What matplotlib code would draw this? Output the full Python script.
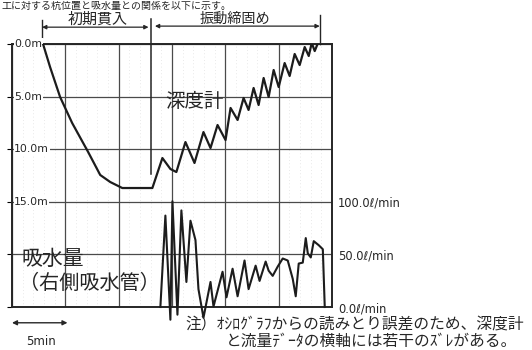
import matplotlib
matplotlib.use("Agg")
import matplotlib.pyplot as plt

plt.rcParams['font.family'] = ['Noto Sans CJK JP', 'DejaVu Sans']

# depth gauge trace: elapsed time [min] and depth [m]
depth_t = [2.91, 3.57, 4.51, 5.64, 7.14, 8.27, 9.21, 10.34, 13.16,
           14.10, 14.85, 15.41, 16.26, 17.11, 17.95, 18.61, 19.27, 20.02,
           20.49, 21.15, 21.71, 22.18, 22.65, 23.12, 23.59, 24.06, 24.53,
           25.00, 25.56, 26.03, 26.50, 26.97, 27.44, 27.82, 28.10, 28.38,
           28.76, 28.95]
depth_m = [0.00, 2.19, 5.04, 7.51, 10.27, 12.45, 13.12, 13.69, 13.69,
           10.84, 11.88, 12.17, 9.32, 11.31, 8.37, 9.89, 7.70, 9.13,
           6.08, 7.22, 5.13, 6.27, 4.18, 5.80, 3.23, 5.04, 2.47,
           4.09, 1.81, 3.04, 0.95, 2.00, 0.29, 1.14, -0.10, 0.67,
           -0.29, 0.00]

# water intake of the right pipe: elapsed time [min] and flow [l/min]
flow_t = [13.91, 14.38, 14.85, 15.04, 15.51, 15.88, 16.35, 16.73, 17.20,
          17.48, 17.95, 18.61, 18.89, 19.74, 20.11, 20.68, 21.15, 21.80,
          22.18, 22.84, 23.21, 23.78, 24.06, 24.44, 24.91, 25.38, 25.85,
          26.32, 26.60, 26.88, 27.26, 27.54, 27.73, 28.01, 28.29, 28.76,
          29.14, 29.32]
flow_q = [0.0, 86.9, -12.1, 100.5, -7.3, 91.8, 23.8, 82.0, 63.6,
          17.0, -10.2, 23.8, 0.5, 33.5, 9.2, 36.4, 10.2, 44.2,
          17.0, 39.3, 24.8, 43.2, 34.5, 29.6, 38.4, 46.1, 44.2,
          26.7, 10.2, 41.3, 42.2, 65.5, 51.0, 47.1, 62.6, 58.7,
          54.9, 0.0]

depth_ticks = [0, 5, 10, 15]
depth_labels = ['0.0m', '5.0m', '10.0m', '15.0m']
flow_ticks = [0, 50, 100]
flow_labels = ['0.0ℓ/min', '50.0ℓ/min', '100.0ℓ/min']

# phase boundaries [min]
t_start = 2.82
t_split = 13.0
t_end = 28.85

ink = '#262626'
num_font = ['DejaVu Sans']

fig = plt.figure(figsize=(5.32, 3.5), dpi=100)
fig.patch.set_facecolor('white')
ax = fig.add_axes([12 / 532, 1 - 307 / 350, 320 / 532, 263 / 350])
ax.set_xlim(0, 30)
ax.set_ylim(25, 0)

# faint chart-paper rulings
for t in range(1, 30):
    if t % 5:
        ax.axvline(t, color='#e2e2e2', lw=0.6, ls=(0, (1, 3)), zorder=0)

ax.set_xticks(range(0, 31, 5))
ax.set_yticks(range(0, 26, 5))
ax.grid(color='#4a4a4a', lw=0.9)
ax.tick_params(left=False, bottom=False, labelleft=False, labelbottom=False)
for s in ax.spines.values():
    s.set_linewidth(1.4)
    s.set_color(ink)

axf = ax.twinx()
axf.set_ylim(0, 250)
axf.set_yticks(flow_ticks)
axf.set_yticklabels(flow_labels, family=num_font, fontsize=8.3, color=ink)
axf.tick_params(right=False, length=0, pad=4.5)
for s in axf.spines.values():
    s.set_visible(False)

for d, lab in zip(depth_ticks, depth_labels):
    ax.text(0.2, d, lab, family=num_font, fontsize=7.8, color=ink,
            ha='left', va='center', clip_on=False,
            bbox=dict(boxstyle='square,pad=0.05', fc='white', ec='none'))

ax.plot(depth_t, depth_m, color='#1c1c1c', lw=1.6, zorder=3)
axf.plot(flow_t, flow_q, color='#1c1c1c', lw=1.5, clip_on=False, zorder=3)

# phase markers above the frame
ax.plot([t_split, t_split], [-2.4, 12.4], color=ink, lw=1.1, clip_on=False)
ax.plot([t_start, t_start], [-2.3, -0.7], color=ink, lw=1.0, clip_on=False)
ax.plot([t_end, t_end], [-2.8, -0.1], color=ink, lw=1.0, clip_on=False)
arrow = dict(arrowstyle='<|-|>', color=ink, lw=0.9, mutation_scale=6,
             shrinkA=0, shrinkB=0)
ax.annotate('', xy=(t_start, -1.6), xytext=(t_split - 0.2, -1.6),
            arrowprops=arrow, annotation_clip=False)
ax.annotate('', xy=(t_split + 0.4, -1.7), xytext=(t_end, -1.7),
            arrowprops=arrow, annotation_clip=False)
ax.text(8.0, -2.35, '初期貫入', fontsize=10.8, color=ink,
        ha='center', va='center', clip_on=False)
ax.text(20.9, -2.4, '振動締固め', fontsize=10.2, color=ink,
        ha='center', va='center', clip_on=False)

ax.text(17.1, 5.5, '深度計', fontsize=14, color=ink,
        ha='center', va='center')
ax.text(0.9, 20.4, '吸水量', fontsize=15, color=ink,
        ha='left', va='center')
ax.text(0.7, 22.8, '（右側吸水管）', fontsize=14.5, color=ink,
        ha='left', va='center')

# time scale bar
ax.annotate('', xy=(0, 26.5), xytext=(5.2, 26.5),
            arrowprops=dict(arrowstyle='<|-|>', color=ink, lw=1.0,
                            mutation_scale=7, shrinkA=0, shrinkB=0),
            annotation_clip=False)
ax.text(2.7, 28.3, '5min', family=num_font, fontsize=8.5, color=ink,
        ha='center', va='center', clip_on=False)

fig.text(185 / 532, 1 - 325 / 350,
         '注）ｵｼﾛｸﾞﾗﾌからの読みとり誤差のため、深度計',
         fontsize=11.3, color=ink, ha='left', va='center')
fig.text(226 / 532, 1 - 341 / 350,
         'と流量ﾃﾞｰﾀの横軸には若干のｽﾞﾚがある。',
         fontsize=11.3, color=ink, ha='left', va='center')
fig.text(0.002, 1 - 0.5 / 350,
         '工に対する杭位置と吸水量との関係を以下に示す。',
         fontsize=7.2, color=ink, ha='left', va='top')

fig.savefig('out.png', dpi=100, facecolor='white')
